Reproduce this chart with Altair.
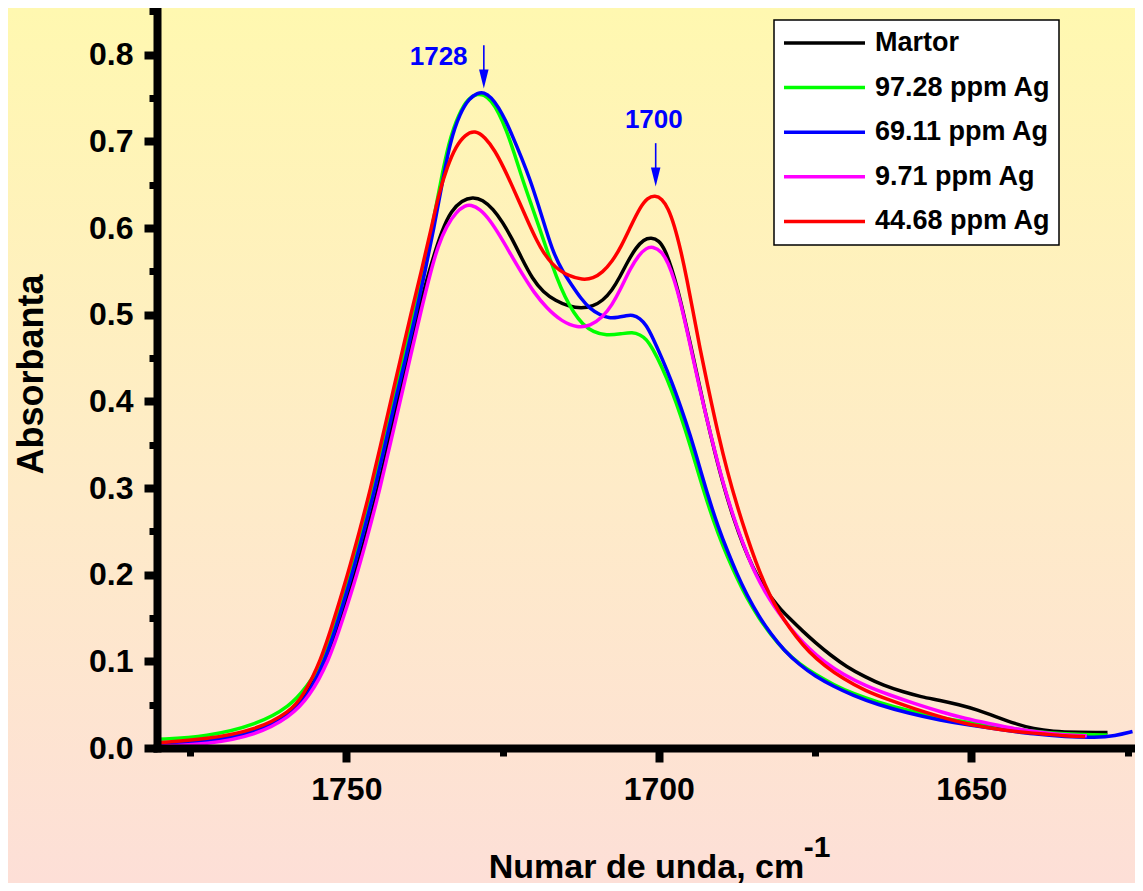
import altair as alt
import pandas as pd

# ---------------- data ----------------
series_names = ["Martor", "97.28 ppm Ag", "69.11 ppm Ag", "9.71 ppm Ag", "44.68 ppm Ag"]
series_colors = ["#000000", "#00FF00", "#0000FF", "#FF00FF", "#FF0000"]

martor_wn = [1780.3, 1772.3, 1764.3, 1759.0, 1756.5, 1753.1, 1750.8, 1748.6, 1746.7, 1744.9, 1743.3, 1741.8,
             1740.2, 1738.6, 1736.8, 1734.6, 1733.2, 1731.5, 1729.8, 1728.2, 1726.5, 1725.0, 1723.5, 1722.0,
             1720.2, 1718.5, 1716.5, 1714.5, 1712.4, 1710.5, 1709.0, 1707.5, 1706.2, 1705.0, 1703.7, 1702.4,
             1701.2, 1700.0, 1699.0, 1698.0, 1697.0, 1696.0, 1695.0, 1694.0, 1692.5, 1691.0, 1689.5, 1688.0,
             1686.5, 1685.0, 1683.5, 1682.0, 1680.5, 1679.0, 1677.0, 1675.0, 1672.5, 1670.0, 1667.0, 1664.0,
             1661.0, 1658.0, 1655.0, 1652.0, 1649.0, 1646.0, 1643.0, 1640.0, 1637.0, 1633.0, 1628.2]
martor_abs = [0.005, 0.008, 0.019, 0.040, 0.062, 0.100, 0.150, 0.200, 0.250, 0.300, 0.350, 0.400,
              0.450, 0.500, 0.550, 0.600, 0.620, 0.632, 0.636, 0.633, 0.622, 0.607, 0.588, 0.566,
              0.541, 0.526, 0.516, 0.510, 0.507, 0.510, 0.516, 0.528, 0.544, 0.561, 0.577, 0.587,
              0.589, 0.586, 0.575, 0.555, 0.530, 0.500, 0.468, 0.435, 0.385, 0.340, 0.299, 0.264,
              0.234, 0.209, 0.189, 0.173, 0.160, 0.149, 0.135, 0.122, 0.107, 0.094, 0.082, 0.072,
              0.065, 0.059, 0.055, 0.050, 0.044, 0.036, 0.028, 0.022, 0.019, 0.018, 0.018]

g97_wn = [1780.3, 1772.3, 1764.3, 1759.0, 1756.3, 1753.6, 1751.4, 1749.4, 1747.5, 1745.8, 1744.2, 1742.5,
          1740.9, 1739.2, 1737.7, 1736.3, 1735.0, 1733.6, 1732.0, 1730.5, 1729.0, 1728.0, 1726.8, 1725.6,
          1724.4, 1723.1, 1721.8, 1720.4, 1719.0, 1717.7, 1716.4, 1715.0, 1713.6, 1712.2, 1710.5, 1708.4,
          1706.0, 1704.2, 1703.0, 1702.0, 1701.0, 1699.5, 1698.0, 1696.5, 1695.0, 1693.5, 1692.0, 1690.5,
          1689.0, 1687.5, 1686.0, 1684.0, 1682.0, 1680.0, 1677.5, 1675.0, 1672.0, 1669.0, 1665.0, 1660.0,
          1655.0, 1650.0, 1645.0, 1640.0, 1635.0, 1630.0, 1628.2]
g97_abs = [0.010, 0.013, 0.027, 0.048, 0.071, 0.100, 0.150, 0.200, 0.250, 0.300, 0.350, 0.400,
           0.450, 0.500, 0.550, 0.600, 0.650, 0.700, 0.732, 0.750, 0.755, 0.754, 0.747, 0.733,
           0.713, 0.686, 0.656, 0.627, 0.598, 0.570, 0.544, 0.520, 0.502, 0.489, 0.480, 0.476,
           0.478, 0.480, 0.477, 0.472, 0.461, 0.440, 0.414, 0.384, 0.350, 0.313, 0.278, 0.247,
           0.220, 0.196, 0.174, 0.150, 0.130, 0.113, 0.097, 0.085, 0.073, 0.063, 0.053, 0.043,
           0.035, 0.029, 0.024, 0.019, 0.016, 0.015, 0.015]

b69_wn = [1780.3, 1772.3, 1764.3, 1759.0, 1756.5, 1753.4, 1751.2, 1749.1, 1747.2, 1745.4, 1743.8, 1742.2,
          1740.5, 1738.9, 1737.4, 1736.0, 1734.7, 1733.4, 1731.8, 1730.3, 1729.0, 1728.0, 1726.8, 1725.6,
          1724.5, 1723.4, 1722.0, 1720.6, 1719.3, 1718.0, 1716.9, 1715.4, 1714.0, 1712.4, 1711.0, 1709.5,
          1708.0, 1706.5, 1705.2, 1704.2, 1703.0, 1702.0, 1701.0, 1699.5, 1698.0, 1696.5, 1695.0, 1693.5,
          1692.0, 1690.5, 1689.0, 1687.5, 1686.0, 1684.0, 1682.0, 1680.0, 1677.5, 1675.0, 1672.0, 1669.0,
          1665.0, 1660.0, 1655.0, 1650.0, 1645.0, 1640.0, 1635.0, 1630.0, 1627.0, 1624.2]
b69_abs = [0.004, 0.007, 0.018, 0.038, 0.056, 0.100, 0.150, 0.200, 0.250, 0.300, 0.350, 0.400,
           0.450, 0.500, 0.550, 0.600, 0.650, 0.700, 0.733, 0.750, 0.756, 0.757, 0.751, 0.739,
           0.724, 0.706, 0.682, 0.656, 0.627, 0.597, 0.572, 0.550, 0.535, 0.518, 0.507, 0.500,
           0.496, 0.497, 0.499, 0.500, 0.496, 0.488, 0.474, 0.450, 0.424, 0.394, 0.362, 0.325,
           0.288, 0.255, 0.227, 0.201, 0.178, 0.152, 0.131, 0.113, 0.096, 0.083, 0.071, 0.061,
           0.050, 0.040, 0.032, 0.026, 0.021, 0.016, 0.013, 0.012, 0.014, 0.019]

m9_wn = [1780.3, 1772.3, 1764.3, 1759.0, 1756.0, 1752.8, 1750.5, 1748.3, 1746.4, 1744.6, 1743.0, 1741.4,
         1739.8, 1738.2, 1736.5, 1735.3, 1734.0, 1732.4, 1731.0, 1730.1, 1728.6, 1727.0, 1725.4, 1723.4,
         1721.5, 1720.0, 1718.0, 1715.5, 1713.0, 1711.0, 1709.0, 1707.5, 1706.0, 1704.6, 1703.2, 1702.0,
         1701.0, 1699.5, 1698.5, 1697.5, 1696.5, 1695.5, 1694.5, 1693.5, 1692.0, 1690.5, 1689.0, 1687.5,
         1686.0, 1684.5, 1683.0, 1681.5, 1680.0, 1678.0, 1676.0, 1673.5, 1670.5, 1667.0, 1663.0, 1659.0,
         1655.0, 1651.0, 1647.0, 1643.0, 1639.0, 1635.0, 1631.5]
m9_abs = [0.002, 0.004, 0.015, 0.036, 0.058, 0.100, 0.150, 0.200, 0.250, 0.300, 0.350, 0.400,
          0.450, 0.500, 0.550, 0.580, 0.602, 0.619, 0.626, 0.627, 0.622, 0.609, 0.591, 0.566,
          0.543, 0.526, 0.508, 0.492, 0.485, 0.487, 0.497, 0.511, 0.531, 0.553, 0.569, 0.577,
          0.579, 0.573, 0.560, 0.540, 0.514, 0.482, 0.449, 0.416, 0.370, 0.327, 0.288, 0.255,
          0.226, 0.200, 0.180, 0.163, 0.148, 0.130, 0.115, 0.099, 0.085, 0.072, 0.061, 0.051,
          0.042, 0.034, 0.028, 0.022, 0.018, 0.015, 0.014]

r44_wn = [1780.3, 1772.3, 1764.3, 1759.0, 1756.9, 1754.1, 1751.9, 1749.8, 1747.9, 1746.1, 1744.5, 1742.9,
          1741.3, 1739.7, 1738.0, 1736.4, 1735.2, 1733.8, 1732.5, 1731.0, 1729.4, 1727.8, 1726.2, 1724.9,
          1723.6, 1722.2, 1720.8, 1719.5, 1718.5, 1717.0, 1716.0, 1714.5, 1712.2, 1710.5, 1709.0, 1707.5,
          1706.0, 1704.5, 1703.0, 1701.8, 1700.6, 1699.5, 1698.5, 1697.5, 1696.5, 1695.5, 1694.5, 1693.5,
          1692.0, 1690.5, 1689.0, 1687.5, 1686.0, 1684.5, 1683.0, 1681.5, 1680.0, 1678.0, 1676.0, 1673.5,
          1670.5, 1667.0, 1663.0, 1659.0, 1655.0, 1651.0, 1647.0, 1643.0, 1638.0, 1635.0, 1631.8]
r44_abs = [0.006, 0.010, 0.021, 0.042, 0.060, 0.100, 0.150, 0.200, 0.250, 0.300, 0.350, 0.400,
           0.450, 0.500, 0.550, 0.600, 0.640, 0.672, 0.694, 0.708, 0.713, 0.705, 0.689, 0.671,
           0.651, 0.628, 0.605, 0.585, 0.572, 0.558, 0.552, 0.545, 0.540, 0.542, 0.549, 0.561,
           0.579, 0.602, 0.624, 0.635, 0.638, 0.634, 0.623, 0.603, 0.575, 0.541, 0.503, 0.464,
           0.412, 0.362, 0.318, 0.280, 0.246, 0.215, 0.188, 0.166, 0.148, 0.128, 0.111, 0.095,
           0.080, 0.066, 0.055, 0.045, 0.036, 0.028, 0.023, 0.019, 0.016, 0.014, 0.013]

series_wn = [martor_wn, g97_wn, b69_wn, m9_wn, r44_wn]
series_abs = [martor_abs, g97_abs, b69_abs, m9_abs, r44_abs]

x_major = [1750, 1700, 1650]
x_minor = [1775, 1725, 1675, 1625]
y_major = [0.0, 0.1, 0.2, 0.3, 0.4, 0.5, 0.6, 0.7, 0.8]
y_minor = [0.05, 0.15, 0.25, 0.35, 0.45, 0.55, 0.65, 0.75, 0.85]

peak_labels = ["1728", "1700"]
peak_arrow_x = [1728.0, 1700.5]
peak_label_x = [1730.6, 1700.8]
peak_label_y = [0.788, 0.7155]
arrow_top = [0.811, 0.698]
arrow_bottom = [0.780, 0.667]
arrow_head_y = [0.772, 0.659]

x_title = "Numar de unda, cm"
x_title_sup = "-1"
y_title = "Absorbanta"

# ---------------- layout / style ----------------
W, H = 978, 740
PAD_L, PAD_B = 149, 135
FONT = "Liberation Sans"
X_DOMAIN = [1623.8, 1780.3]
Y_DOMAIN = [0.0, 0.854]

xs = alt.Scale(domain=X_DOMAIN, reverse=True, nice=False, zero=False)
ys = alt.Scale(domain=Y_DOMAIN, nice=False, zero=False)
cs = alt.Scale(domain=series_names, range=series_colors)

rows = []
for name, wn, ab in zip(series_names, series_wn, series_abs):
    for w, a in zip(wn, ab):
        rows.append({"series": name, "wn": w, "abs": a})
df = pd.DataFrame(rows)

x_axis = alt.Axis(values=x_major, format="d", orient="bottom", grid=False,
                  labelFont=FONT, labelFontSize=32, labelFontWeight="bold", labelColor="black",
                  labelPadding=12, labelFlush=False, labelOverlap=False,
                  tickSize=14, tickWidth=8, tickColor="black",
                  domainColor="black", domainWidth=8, domainCap="square",
                  title=x_title, titleFont=FONT, titleFontSize=34, titleFontWeight="bold",
                  titleColor="black", titleBaseline="alphabetic", titleY=129, zindex=3)
y_axis = alt.Axis(values=y_major, format=".1f", orient="left", grid=False,
                  labelFont=FONT, labelFontSize=32, labelFontWeight="bold", labelColor="black",
                  labelPadding=11, labelFlush=False, labelOverlap=False,
                  tickSize=13, tickWidth=8, tickColor="black",
                  domainColor="black", domainWidth=8, domainCap="square",
                  title=y_title, titleFont=FONT, titleFontSize=36, titleFontWeight="bold",
                  titleColor="black", titleBaseline="alphabetic", titleAngle=270,
                  titleX=-115, titleY=366, zindex=3)
x_axis_minor = alt.Axis(values=x_minor, orient="bottom", labels=False, domain=False, grid=False,
                        tickSize=8, tickWidth=7, tickColor="black", title=None, zindex=3)
y_axis_minor = alt.Axis(values=y_minor, orient="left", labels=False, domain=False, grid=False,
                        tickSize=8, tickWidth=7, tickColor="black", title=None, zindex=3)

legend = alt.Legend(title=None, orient="none", legendX=617, legendY=12,
                    fillColor="white", strokeColor="black", padding=8,
                    symbolType="stroke", symbolSize=6561, symbolStrokeWidth=3.5,
                    clipHeight=30, rowPadding=14.6, labelOffset=8, labelLimit=400,
                    labelFont=FONT, labelFontSize=27, labelFontWeight="bold", labelColor="black",
                    zindex=4)

bg = alt.Chart(pd.DataFrame({"k": [0]})).mark_rect(
    fill=alt.LinearGradient(gradient="linear", x1=0, x2=0, y1=0, y2=1,
                            stops=[alt.GradientStop(color="#FFF8B0", offset=0),
                                   alt.GradientStop(color="#FEEBC8", offset=0.55),
                                   alt.GradientStop(color="#FDDFD7", offset=1)]),
    strokeWidth=0
).encode(x=alt.value(-PAD_L), x2=alt.value(W), y=alt.value(0), y2=alt.value(H + PAD_B))

line_layers = []
for i, name in enumerate(series_names):
    first = i == 0
    layer = alt.Chart(df).transform_filter(alt.datum.series == name).mark_line(
        strokeWidth=3.5, interpolate="basis"
    ).encode(
        x=alt.X("wn:Q", scale=xs, axis=x_axis if first else None),
        y=alt.Y("abs:Q", scale=ys, axis=y_axis if first else None),
        color=alt.Color("series:N", scale=cs, legend=legend),
        order=alt.Order("wn:Q"),
    )
    line_layers.append(layer)

minor = alt.Chart(df).mark_point(opacity=0).encode(
    x=alt.X("wn:Q", scale=xs, axis=x_axis_minor),
    y=alt.Y("abs:Q", scale=ys, axis=y_axis_minor),
)

ann = pd.DataFrame({"label": peak_labels, "ax": peak_arrow_x, "lx": peak_label_x, "ly": peak_label_y,
                    "top": arrow_top, "bot": arrow_bottom, "head": arrow_head_y})
ann_base = alt.Chart(ann)
shafts = ann_base.mark_rule(color="#0000FF", strokeWidth=1.6).encode(
    x=alt.X("ax:Q", scale=xs, axis=None),
    y=alt.Y("top:Q", scale=ys, axis=None), y2="bot:Q")
heads = ann_base.mark_point(shape="M-0.5,-1L0.5,-1L0,1Z", filled=True, size=361,
                            color="#0000FF", opacity=1).encode(
    x=alt.X("ax:Q", scale=xs, axis=None),
    y=alt.Y("head:Q", scale=ys, axis=None))
lab1 = ann_base.transform_filter(alt.datum.label == "1728").mark_text(
    align="right", baseline="alphabetic", font=FONT, fontSize=26, fontWeight="bold", color="#0000FF"
).encode(x=alt.X("lx:Q", scale=xs, axis=None), y=alt.Y("ly:Q", scale=ys, axis=None), text="label:N")
lab2 = ann_base.transform_filter(alt.datum.label == "1700").mark_text(
    align="center", baseline="alphabetic", font=FONT, fontSize=26, fontWeight="bold", color="#0000FF"
).encode(x=alt.X("lx:Q", scale=xs, axis=None), y=alt.Y("ly:Q", scale=ys, axis=None), text="label:N")

sup = alt.Chart(pd.DataFrame({"t": [x_title_sup], "x": [1676.8], "y": [-0.126]})).mark_text(
    align="left", baseline="alphabetic", font=FONT, fontSize=30, fontWeight="bold", color="black"
).encode(x=alt.X("x:Q", scale=xs, axis=None), y=alt.Y("y:Q", scale=ys, axis=None), text="t:N")

chart = alt.layer(bg, *line_layers, minor, shafts, heads, lab1, lab2, sup).resolve_axis(
    x="independent", y="independent"
).properties(
    width=W, height=H,
    padding={"left": PAD_L, "top": 0, "right": 0, "bottom": PAD_B},
    autosize=alt.AutoSizeParams(type="none"),
    background="#FEEBC8",
).configure_view(stroke=None).configure_legend(strokeWidth=1.5)

chart.save("out.html", embed_options={"renderer": "svg", "actions": False})
